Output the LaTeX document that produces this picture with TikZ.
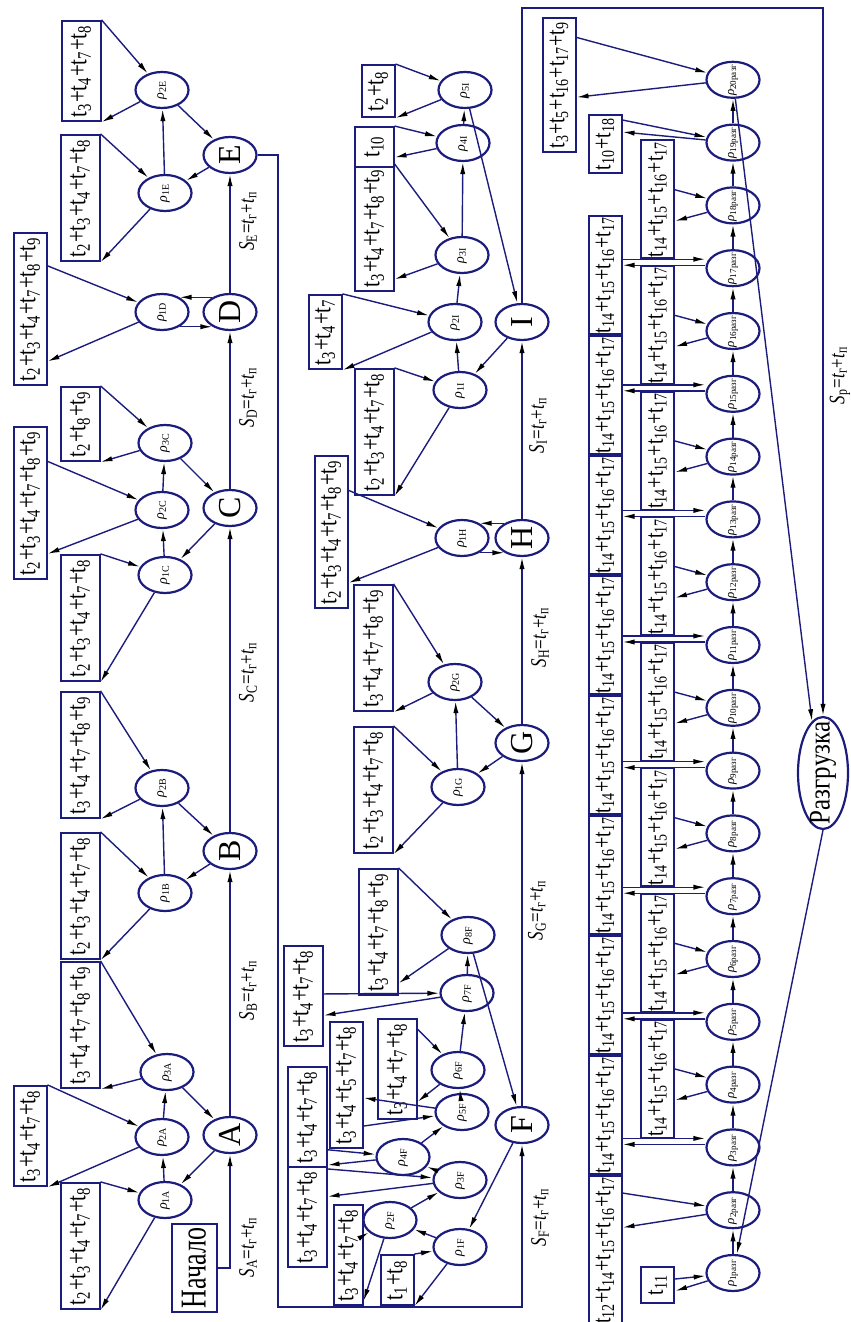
\documentclass[tikz,border=0pt]{standalone}
\usepackage{fontspec}
\setmainfont{Liberation Serif}
\usetikzlibrary{shapes.geometric,arrows.meta,calc}

\definecolor{navy}{RGB}{28,28,125}

% sum of times t_i + t_j + ...
\newcommand{\tsum}[1]{\scalebox{1}[1.3]{\gdef\tsep{}\foreach \tn in {#1}{\tsep t\textsubscript{\tn}\gdef\tsep{+}}}}
% label of a loading point
\newcommand{\rl}[1]{\makebox[0pt]{\textit{ρ}\textsubscript{#1}}}
% label of a run
\newcommand{\slab}[1]{\scalebox{1}[1.3]{\textit{S}\textsubscript{#1}=\textit{t}\textsubscript{г}+\textit{t}\textsubscript{п}}}

\tikzset{
  arr/.style={draw=navy, line width=0.7pt, -{Latex[length=6pt,width=2.6pt,color=black]}},
  ell/.style={ellipse, draw=navy, line width=1.1pt, fill=white, rotate=90, inner sep=0pt,
    minimum width=18pt, minimum height=26.5pt, font=\fontsize{7}{8}\selectfont},
  let/.style={ell, font=\fontsize{16}{17}\selectfont},
  tbox/.style={rectangle, draw=navy, line width=1pt, fill=white, rotate=90, inner xsep=2pt,
    inner ysep=0pt, minimum height=19.5pt, font=\fontsize{10.5}{12}\selectfont},
  nbox/.style={tbox, minimum height=16.5pt},
  bbox/.style={tbox, minimum height=16.5pt, inner xsep=0.5pt, font=\fontsize{10}{12}\selectfont},
  lab/.style={rotate=90, inner sep=0pt, font=\fontsize{8.5}{10}\selectfont},
}

\begin{document}
\begin{tikzpicture}[x=0.5pt, y=-0.5pt]
  \useasboundingbox (0,0) rectangle (851,1322);

  % Start and main points
  \node[tbox, minimum width=43pt, minimum height=22.5pt, font=\fontsize{13}{14}\selectfont] (nach) at (194,1268) {\scalebox{1}[1.4]{Начало}};
  \foreach \p/\y in {A/1135, B/851, C/508, D/312, E/155}
    \node[let] (\p) at (230,\y) {\p};
  \foreach \p/\y in {F/1125, G/743, H/538, I/322}
    \node[let] (\p) at (522,\y) {\p};
  \node[ell, minimum width=56pt, minimum height=25pt, font=\fontsize{12.5}{14}\selectfont] (razg) at (823,773) {\makebox[0pt]{\scalebox{1}[1.2]{Разгрузка}}};

  % Loading points
  \foreach \n/\x/\y/\lbl in {rA1/165/1200/1A, rA2/162/1137/2A, rA3/167/1072/3A,
      rB1/165/893/1B, rB2/162/788/2B,
      rC1/165/575/1C, rC2/162/510/2C, rC3/165/443/3C,
      rD1/162/312/1D,
      rE1/165/193/1E, rE2/162/90/2E,
      rF1/460/1247/1F, rF2/390/1220/2F, rF3/460/1180/3F, rF4/403/1157/4F,
      rF5/462/1112/5F, rF6/458/1070/6F, rF7/467/993/7F, rF8/468/935/8F,
      rG1/458/787/1G, rG2/455/682/2G,
      rH1/462/538/1H,
      rI1/460/390/1I, rI2/455/322/2I, rI3/462/255/3I, rI4/463/143/4I, rI5/465/90/5I}
    \node[ell] (\n) at (\x,\y) {\rl{\lbl}};

  % Times at the points
  \node[tbox] (bA1) at (80,1246) {\tsum{2,3,4,7,8}};
  \node[nbox] (bA2) at (30,1136) {\tsum{3,4,7,8}};
  \node[tbox] (bA3) at (80,1025) {\tsum{3,4,7,8,9}};
  \node[tbox] (bB1) at (80,896) {\tsum{2,3,4,7,8}};
  \node[tbox] (bB2) at (80,755) {\tsum{3,4,7,8,9}};
  \node[tbox] (bC1) at (80,618) {\tsum{2,3,4,7,8}};
  \node[nbox] (bC2) at (30,503) {\tsum{2,3,4,7,8,9}};
  \node[tbox] (bC3) at (80,424) {\tsum{2,8,9}};
  \node[nbox] (bD1) at (30,309) {\tsum{2,3,4,7,8,9}};
  \node[tbox] (bE1) at (80,198) {\tsum{2,3,4,7,8}};
  \node[tbox] (bE2) at (81,71) {\tsum{3,4,7,8}};

  \node[nbox, minimum width=25pt] (bF1) at (397,1280) {\tsum{1,8}};
  \node[nbox, minimum height=14.5pt] (bF2) at (348,1255) {\tsum{3,4,7,8}};
  \node[tbox] (bF3) at (307,1217) {\tsum{3,4,7,8}};
  \node[tbox] (bF4) at (307,1117) {\tsum{3,4,7,8}};
  \node[nbox] (bF5) at (346,1085) {\tsum{3,4,5,7,8}};
  \node[tbox] (bF6) at (397,1069) {\tsum{3,4,7,8}};
  \node[tbox] (bF7) at (303,996) {\tsum{3,4,7,8}};
  \node[tbox] (bF8) at (378,932) {\tsum{3,4,7,8,9}};
  \node[tbox] (bG1) at (373,790) {\tsum{2,3,4,7,8}};
  \node[tbox] (bG2) at (373,648) {\tsum{3,4,7,8,9}};
  \node[nbox] (bH1) at (331,532) {\tsum{2,3,4,7,8,9}};
  \node[tbox] (bI1) at (374,432) {\tsum{2,3,4,7,8}};
  \node[nbox] (bI2) at (325,332) {\tsum{3,4,7}};
  \node[tbox] (bI3) at (374,228) {\tsum{3,4,7,8,9}};
  \node[tbox, minimum width=20pt] (bI4) at (374,147) {\tsum{10}};
  \node[nbox, minimum width=26pt] (bI5) at (378,91) {\tsum{2,8}};

  % Box <-> point
  \foreach \b/\r/\u/\v in {bA1/rA1/0/1, bA2/rA2/0/1, bA3/rA3/0/1, bB1/rB1/0/1, bB2/rB2/0/1,
      bC1/rC1/0/1, bC2/rC2/0.23/0.83, bC3/rC3/0/1, bD1/rD1/0.22/0.84, bE1/rE1/0/1, bE2/rE2/0/1,
      bF1/rF1/0/1, bF2/rF2/0.31/0.95, bF3/rF3/0.03/0.3, bF4/rF4/0.82/0.97, bF5/rF5/0.82/0.6,
      bF6/rF6/0.11/0.82, bF7/rF7/0.48/0.69, bF8/rF8/0/0.9,
      bG1/rG1/0/1, bG2/rG2/0/1, bH1/rH1/0.23/0.83,
      bI1/rI1/0/1, bI2/rI2/0/1, bI3/rI3/0/0.9, bI4/rI4/0/0.75, bI5/rI5/0/1} {
    \draw[arr] ($(\b.south east)!\u!(\b.south west)$) -- (\r);
    \draw[arr] (\r) -- ($(\b.south east)!\v!(\b.south west)$);
  }

  % Point chains
  \foreach \a/\b in {A/rA1, rA1/rA2, rA2/rA3, rA3/A, B/rB1, rB1/rB2, rB2/B,
      C/rC1, rC1/rC2, rC2/rC3, rC3/C, E/rE1, rE1/rE2, rE2/E,
      F/rF1, rF1/rF2, rF2/rF3, rF3/rF4, rF4/rF5, rF5/rF6, rF6/rF7, rF7/rF8, rF8/F,
      G/rG1, rG1/rG2, rG2/G, I/rI1, rI1/rI2, rI2/rI3, rI3/rI4, rI4/rI5, rI5/I}
    \draw[arr] (\a) -- (\b);
  \foreach \a/\b in {D/rD1, H/rH1} {
    \draw[arr] (\a.50) -- (\b.-50);
    \draw[arr] (\b.-130) -- (\a.130);
  }

  % Runs
  \draw[arr] (nach.south) -| (A);
  \foreach \a/\b in {A/B, B/C, C/D, D/E, F/G, G/H, H/I}
    \draw[arr] (\a) -- (\b);
  \foreach \s/\x/\y in {A/248/1247, B/248/990, C/248/672, D/248/397, E/248/221,
      F/540/1217, G/537/910, H/540/637, I/538/425}
    \node[lab] (s\s) at (\x,\y) {\slab{\s}};
  \coordinate (c1) at (278,155);
  \coordinate (c2) at (278,1307);
  \draw[arr] (E) -- (c1) -- (c2) -| (F);
  \coordinate (c3) at (522,8);
  \coordinate (c4) at (823,8);
  \draw[arr] (I) -- (c3) -- (c4) -- (razg);
  \node[lab] (sR) at (840,375) {\slab{р}};

  % Unloading chain
  \foreach \k in {1,...,20} {
    \pgfmathsetmacro\ey{1273-(\k-1)*62.8}
    \node[ell, font=\fontsize{6.5}{7}\selectfont] (r\k) at (733,\ey) {\rl{\k разг}};
  }
  \foreach \k [evaluate=\k as \kn using int(\k+1)] in {1,...,19}
    \draw[arr] (r\k) -- (r\kn);
  \foreach \k in {4,6,...,18} {
    \pgfmathsetmacro\by{1273-(\k-1)*62.8-6}
    \node[bbox, minimum width=57pt] (b\k) at (657.5,\by) {\tsum{14,15,16,17}};
    \draw[arr] ($(b\k.south east)!0.42!(b\k.south west)$) -- (r\k);
    \draw[arr] (r\k) -- ($(b\k.south east)!0.68!(b\k.south west)$);
  }
  \foreach \k in {3,5,...,17} {
    \pgfmathsetmacro\by{275+(17-\k)*60}
    \node[bbox, minimum width=58pt] (b\k) at (605,\by) {\tsum{14,15,16,17}};
    \draw[arr] ($(b\k.south |- r\k)+(0,-9)$) -- ($(r\k.north)+(0,-9)$);
    \draw[arr] ($(r\k.north)+(0,-3)$) -- ($(b\k.south |- r\k)+(0,-3)$);
  }
  \node[bbox, minimum width=71.5pt, inner xsep=0pt] (b2) at (605,1250) {\tsum{12,14,15,16,17}};
  \draw[arr] ($(b2.south east)!0.12!(b2.south west)$) -- (r2);
  \draw[arr] (r2) -- ($(b2.south east)!0.35!(b2.south west)$);
  \node[bbox, minimum width=18pt] (b1) at (657.5,1285) {\tsum{11}};
  \draw[arr] ($(b1.south)+(0,-6)$) -- (r1);
  \draw[arr] (r1) -- ($(b1.south)+(0,6)$);
  \node[bbox, minimum width=29pt] (b19) at (605,144) {\tsum{10,18}};
  \draw[arr] ($(b19.south east)!0.1!(b19.south west)$) -- (r19);
  \draw[arr] (r19) -- ($(b19.south east)!0.3!(b19.south west)$);
  \node[bbox, minimum width=67pt] (b20) at (559,85) {\tsum{3,5,16,17,9}};
  \draw[arr] ($(b20.south east)!0.15!(b20.south west)$) -- (r20);
  \draw[arr] (r20) -- ($(b20.south east)!0.59!(b20.south west)$);
  \draw[arr] (r20) -- (razg.12);
  \draw[arr] (razg.west) -- (r1);
\end{tikzpicture}
\end{document}
